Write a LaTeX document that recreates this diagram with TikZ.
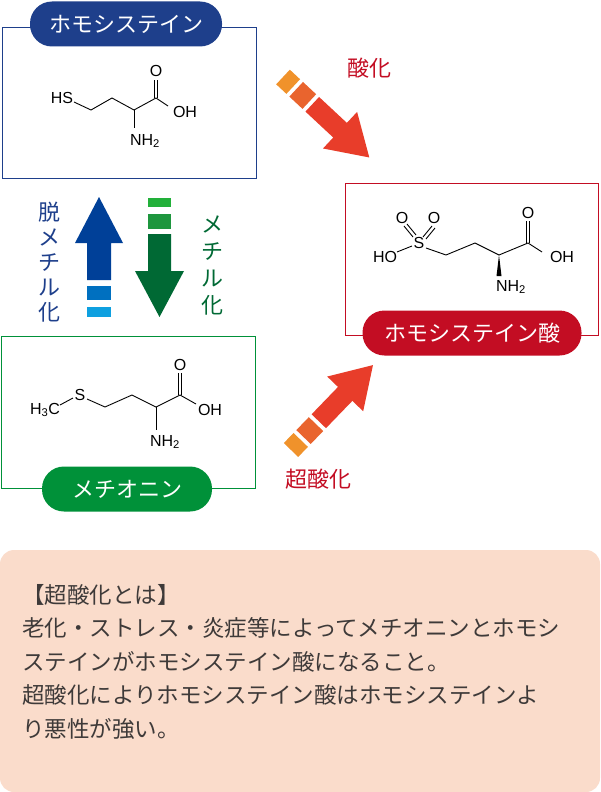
\documentclass[tikz,border=0pt]{standalone}
\usepackage{fontspec}
\setmainfont{Liberation Sans}
\newfontfamily\jp{Noto Sans CJK JP}
\newfontfamily\jpb{Noto Sans CJK JP Bold}
\definecolor{hblue}{HTML}{1E3F8B}
\definecolor{hred}{HTML}{C30D23}
\definecolor{hgreen}{HTML}{009139}
\definecolor{dgreen}{HTML}{006934}
\definecolor{oa}{HTML}{F0922B}
\definecolor{ob}{HTML}{E9642E}
\definecolor{oc}{HTML}{E83D2A}
\definecolor{pink}{HTML}{FADCCB}
\definecolor{txt}{HTML}{3E3A39}
\definecolor{ba}{HTML}{0070C0}
\definecolor{bb}{HTML}{0EA0E0}
\definecolor{ga}{HTML}{22B03A}
\definecolor{gb}{HTML}{1E963E}
\begin{document}
\begin{tikzpicture}[x=1pt,y=-1pt,
  pill/.style={rounded corners=22pt,text=white,font=\jp\fontsize{22}{22}\selectfont,inner xsep=12pt,minimum height=45pt},
  bond/.style={line width=0.9pt,black},
  atom/.style={font=\fontsize{16}{16}\selectfont,inner sep=0pt},
  lab/.style={font=\jp\fontsize{22}{26}\selectfont,align=center}]
\useasboundingbox (0,0) rectangle (600,792);
% boxes
\draw[hblue,line width=0.8pt] (2,27) rectangle (256,178);
\draw[hred,line width=0.8pt] (345,183) rectangle (598,335);
\draw[hgreen,line width=0.8pt] (1,336) rectangle (255,488);
\node[pill,fill=hblue,minimum width=192pt] (p1) at (126,24) {ホモシステイン};
\node[pill,fill=hred,minimum width=219pt] (p2) at (472,333) {ホモシステイン酸};
\node[pill,fill=hgreen,minimum width=170pt] (p3) at (127,489) {メチオニン};
% homocysteine
\node[atom] (hs) at (62,98) {HS};
\draw[bond] (74,102)--(91,110)--(112,98)--(134,110)--(156,98)--(168,106);
\draw[bond] (154.5,98)--(154.5,80) (157.5,98)--(157.5,80);
\node[atom] (o1) at (156,71) {O};
\node[atom] (oh1) at (185,112) {OH};
\draw[bond] (134,110)--(134,128);
\node[atom] (n1) at (145,141) {NH\textsubscript{2}};
% homocysteic acid
\node[atom] (s2) at (419,243) {S};
\node[atom] (oa2) at (402,218) {O};
\node[atom] (ob2) at (434,218) {O};
\node[atom] (ho2) at (385,257) {HO};
\draw[bond] (397,252)--(412,246);
\draw[bond] (404,226)--(413,237) (407,224)--(416,235);
\draw[bond] (432,226)--(423,237) (435,228)--(426,239);
\draw[bond] (426,248)--(446,255)--(475,243)--(499,255)--(528,243)--(542,252);
\draw[bond] (526.5,243)--(526.5,221) (529.5,243)--(529.5,221);
\node[atom] (o2) at (528,213) {O};
\node[atom] (oh2) at (562,257) {OH};
\fill (499,255)--(496.5,276)--(501.5,276)--cycle;
\node[atom] (n2) at (511,287) {NH\textsubscript{2}};
% methionine
\node[atom] (h3c) at (45,410) {H\textsubscript{3}C};
\node[atom] (s3) at (80,395) {S};
\draw[bond] (60,405)--(73,398);
\draw[bond] (87,399)--(105,407)--(132,395)--(156,407)--(180,395)--(196,404);
\draw[bond] (178.5,395)--(178.5,373) (181.5,395)--(181.5,373);
\node[atom] (o3) at (180,365) {O};
\node[atom] (oh3) at (210,410) {OH};
\draw[bond] (156,407)--(156,430);
\node[atom] (n3) at (165,442) {NH\textsubscript{2}};
% vertical arrows
\fill[fill={rgb,255:red,0;green,64;blue,152}] (87,280)--(87,243)--(75,243)--(99,197)--(123,243)--(111,243)--(111,280)--cycle;
\fill[ba] (87,286) rectangle (111,300);
\fill[bb] (87,307) rectangle (111,317);
\fill[ga] (148,198) rectangle (171,207);
\fill[gb] (148,214) rectangle (171,229);
\fill[dgreen] (148,234)--(148,271)--(135,271)--(159.5,317)--(184,271)--(171,271)--(171,234)--cycle;
\node[lab,text=hblue,font=\jp\fontsize{22}{25}\selectfont] (t1) at (49,262) {脱\\メ\\チ\\ル\\化};
\node[lab,text=dgreen,font=\jp\fontsize{22}{27}\selectfont] (t2) at (212,265) {メ\\チ\\ル\\化};
% diagonal arrows
\begin{scope}[shift={(283,77)},rotate=-43]
\fill[oa] (0,-10) rectangle (14,10);
\fill[ob] (18,-10) rectangle (36,10);
\fill[oc] (40,-10)--(78,-10)--(78,-25)--(118,0)--(78,25)--(78,10)--(40,10)--cycle;
\end{scope}
\begin{scope}[shift={(291,450)},rotate=46]
\fill[oa] (0,-10) rectangle (14,10);
\fill[ob] (18,-10) rectangle (36,10);
\fill[oc] (40,-10)--(78,-10)--(78,-25)--(118,0)--(78,25)--(78,10)--(40,10)--cycle;
\end{scope}
\node[lab,text=hred] (l1) at (369,68) {酸化};
\node[lab,text=hred] (l2) at (318,479) {超酸化};
% note box
\fill[pink,rounded corners=14pt] (0,550) rectangle (600,792);
\node[font=\jp\fontsize{22.5}{33.5}\selectfont,text=txt,align=left,anchor=north west,inner sep=0pt] (note) at (22,584)
{【超酸化とは】\\老化・ストレス・炎症等によってメチオニンとホモシ\\ステインがホモシステイン酸になること。\\超酸化によりホモシステイン酸はホモシステインよ\\り悪性が強い。};
\end{tikzpicture}
\end{document}
